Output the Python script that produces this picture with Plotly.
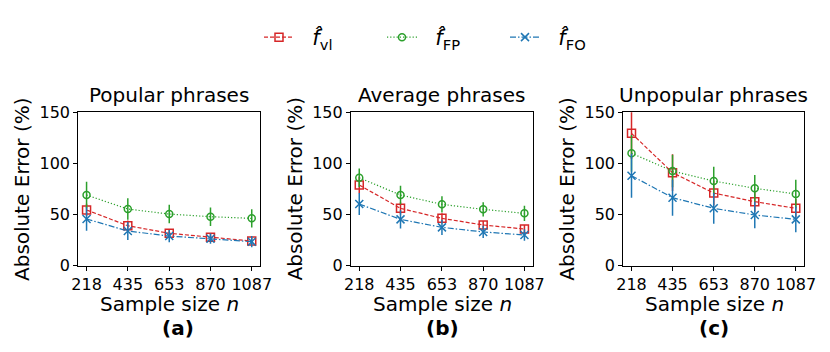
import plotly.graph_objects as go

# ---- data ----
sample_sizes = [218, 435, 653, 870, 1087]
panel_titles = ["Popular phrases", "Average phrases", "Unpopular phrases"]
panel_labels = ["(a)", "(b)", "(c)"]
series_names = ["\u00a0\u00a0<i>f̂</i><sub>vl</sub>", "\u00a0\u00a0<i>f̂</i><sub>FP</sub>", "\u00a0\u00a0<i>f̂</i><sub>FO</sub>"]

vl_popular = [54.5, 39.1, 31.7, 27.7, 24.1]
vl_popular_err = [6, 5, 4, 3.5, 3]
fp_popular = [69.1, 55.4, 50.5, 47.9, 46.3]
fp_popular_err = [13, 10.5, 9, 9, 9]
fo_popular = [45.7, 33.9, 29.0, 26.4, 23.5]
fo_popular_err = [11.5, 8.8, 6, 5, 5.5]

vl_average = [78.9, 56.1, 46.3, 39.8, 35.9]
vl_average_err = [8, 6, 5, 4, 4]
fp_average = [86.0, 69.1, 60.0, 55.1, 51.2]
fp_average_err = [9, 9, 8, 7, 7.5]
fo_average = [60.3, 45.3, 37.5, 33.0, 30.0]
fo_average_err = [10.7, 9, 7.5, 6, 5.6]

vl_unpopular = [129.4, 91.0, 71.0, 62.6, 56.1]
vl_unpopular_err = [25, 18, 12, 10, 9]
fp_unpopular = [109.9, 92.6, 82.8, 75.7, 70.1]
fp_unpopular_err = [18, 16, 14, 13, 14]
fo_unpopular = [88.0, 66.5, 56.1, 49.6, 45.3]
fo_unpopular_err = [21.5, 17.6, 15, 13, 12.7]

panels = [
    [(vl_popular, vl_popular_err), (fp_popular, fp_popular_err), (fo_popular, fo_popular_err)],
    [(vl_average, vl_average_err), (fp_average, fp_average_err), (fo_average, fo_average_err)],
    [(vl_unpopular, vl_unpopular_err), (fp_unpopular, fp_unpopular_err), (fo_unpopular, fo_unpopular_err)],
]

# ---- styles ----
# The page body has an 8px default margin; the figure is sized so it fits in
# the 830x352 window, and positions below are given in window pixels.
OFF = 8
W, H = 814, 336
FONT = "DejaVu Sans"
colors = ["#d62728", "#2ca02c", "#1f77b4"]
dashes = ["4px,2px", "1.2px,2px", "6px,2px,1.5px,2px"]
symbols = ["square-open", "circle-open", "x-thin-open"]
msizes = [8, 7, 8]

x_dom = [(78.3, 260.0), (351.0, 532.7), (623.3, 804.0)]
y_dom = (112.3, 265.7)
ylabel_x = [22, 294.5, 566.7]
xlabel_x = [169, 442, 714]
plabel_x = [178.3, 442, 714]


def px(x):
    return (x - OFF) / W


def py(y):
    return 1 - (y - OFF) / H


fig = go.Figure()
for p, series in enumerate(panels):
    suffix = "" if p == 0 else str(p + 1)
    for s, (vals, errs) in enumerate(series):
        fig.add_trace(go.Scatter(
            x=sample_sizes, y=vals,
            xaxis="x" + suffix, yaxis="y" + suffix,
            mode="lines+markers",
            name=series_names[s],
            legendgroup=str(s),
            showlegend=(p == 0),
            line=dict(color=colors[s], width=1.2, dash=dashes[s]),
            marker=dict(symbol=symbols[s], size=msizes[s], color=colors[s],
                        line=dict(color=colors[s], width=1.5)),
            error_y=dict(type="data", array=errs, visible=True, width=0,
                         thickness=1.5, color=colors[s]),
        ))

layout = dict(
    width=W, height=H,
    margin=dict(l=0, r=0, t=0, b=0, autoexpand=False),
    paper_bgcolor="white", plot_bgcolor="white",
    font=dict(family=FONT, size=16, color="black"),
    legend=dict(orientation="h", x=px(259), xanchor="left", y=py(17), yanchor="top",
                font=dict(size=21), entrywidth=78, entrywidthmode="pixels",
                bgcolor="rgba(0,0,0,0)"),
    annotations=[],
)
xr = [218 - 0.05 * (1087 - 218), 1087 + 0.05 * (1087 - 218)]
for p in range(3):
    suffix = "" if p == 0 else str(p + 1)
    ax = dict(
        domain=[px(x_dom[p][0]), px(x_dom[p][1])],
        range=xr, tickvals=sample_sizes, ticktext=[str(v) for v in sample_sizes],
        showline=True, mirror=True, linecolor="black", linewidth=1.2,
        ticks="outside", ticklen=4, tickwidth=1.2, tickcolor="black",
        showgrid=False, zeroline=False, anchor="y" + suffix,
        tickfont=dict(size=16), automargin=False,
    )
    ay = dict(
        domain=[py(y_dom[1]), py(y_dom[0])],
        range=[0, 150], tickvals=[0, 50, 100, 150],
        showline=True, mirror=True, linecolor="black", linewidth=1.2,
        ticks="outside", ticklen=4, tickwidth=1.2, tickcolor="black",
        showgrid=False, zeroline=False, anchor="x" + suffix,
        tickfont=dict(size=16), automargin=False,
    )
    layout["xaxis" + suffix] = ax
    layout["yaxis" + suffix] = ay
    cx = (x_dom[p][0] + x_dom[p][1]) / 2
    layout["annotations"] += [
        dict(text=panel_titles[p], x=px(cx), y=py(95), xref="paper", yref="paper",
             showarrow=False, font=dict(size=20), xanchor="center", yanchor="middle"),
        dict(text="Sample size <i>n</i>", x=px(xlabel_x[p]), y=py(304.3), xref="paper", yref="paper",
             showarrow=False, font=dict(size=20), xanchor="center", yanchor="middle"),
        dict(text="<b>" + panel_labels[p] + "</b>", x=px(plabel_x[p]), y=py(328.3), xref="paper", yref="paper",
             showarrow=False, font=dict(size=20), xanchor="center", yanchor="middle"),
        dict(text="Absolute Error (%)", x=px(ylabel_x[p]), y=py(189), xref="paper", yref="paper",
             showarrow=False, font=dict(size=20), textangle=-90, xanchor="center", yanchor="middle"),
    ]

fig.update_layout(**layout)
fig.write_html("out.html")
